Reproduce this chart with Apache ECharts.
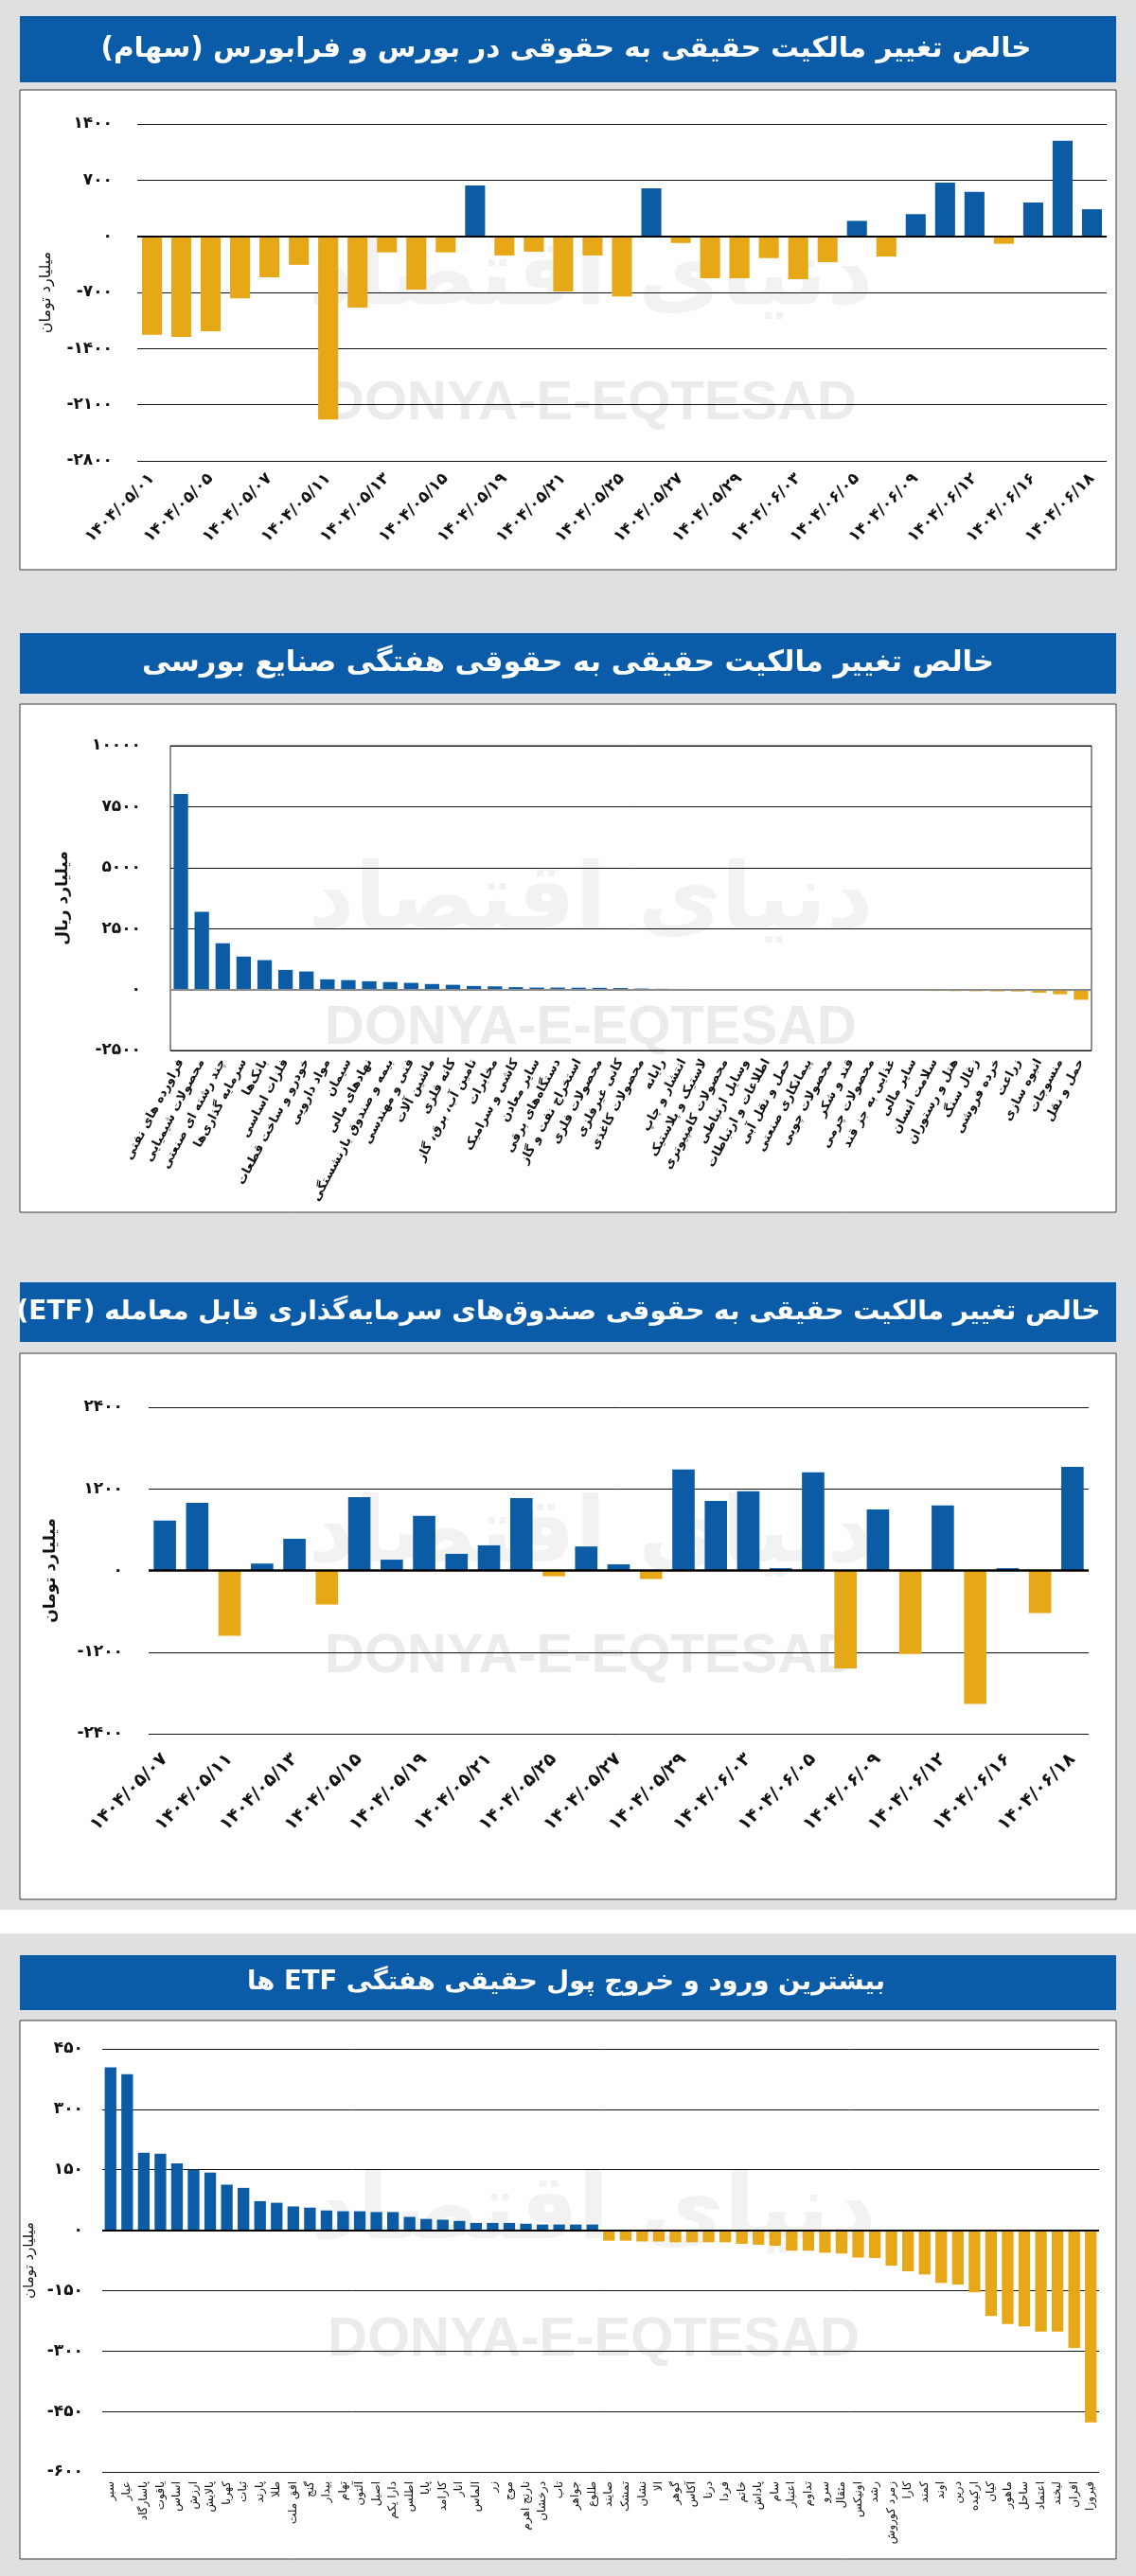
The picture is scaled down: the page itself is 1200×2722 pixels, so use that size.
<!DOCTYPE html>
<html><head><meta charset="utf-8">
<script src="https://cdn.jsdelivr.net/npm/echarts@6.0.0/dist/echarts.min.js"></script>
<style>html,body{margin:0;padding:0;background:#dfe0e2}#c{width:1200px;height:2722px}</style>
</head><body><div id="c"></div><script>
// ---------- DATA ----------
const dates1 = ['۱۴۰۴/۰۵/۰۱','۱۴۰۴/۰۵/۰۴','۱۴۰۴/۰۵/۰۵','۱۴۰۴/۰۵/۰۶','۱۴۰۴/۰۵/۰۷','۱۴۰۴/۰۵/۰۸','۱۴۰۴/۰۵/۱۱','۱۴۰۴/۰۵/۱۲','۱۴۰۴/۰۵/۱۳','۱۴۰۴/۰۵/۱۴','۱۴۰۴/۰۵/۱۵','۱۴۰۴/۰۵/۱۸','۱۴۰۴/۰۵/۱۹','۱۴۰۴/۰۵/۲۰','۱۴۰۴/۰۵/۲۱','۱۴۰۴/۰۵/۲۲','۱۴۰۴/۰۵/۲۵','۱۴۰۴/۰۵/۲۶','۱۴۰۴/۰۵/۲۷','۱۴۰۴/۰۵/۲۸','۱۴۰۴/۰۵/۲۹','۱۴۰۴/۰۶/۰۲','۱۴۰۴/۰۶/۰۳','۱۴۰۴/۰۶/۰۴','۱۴۰۴/۰۶/۰۵','۱۴۰۴/۰۶/۰۸','۱۴۰۴/۰۶/۰۹','۱۴۰۴/۰۶/۱۰','۱۴۰۴/۰۶/۱۲','۱۴۰۴/۰۶/۱۵','۱۴۰۴/۰۶/۱۶','۱۴۰۴/۰۶/۱۷','۱۴۰۴/۰۶/۱۸'];
const stockNet = [-1227,-1255,-1185,-773,-510,-356,-2285,-890,-201,-665,-201,632,-239,-192,-688,-239,-749,599,-84,-524,-524,-272,-534,-323,192,-253,276,670,553,-94,421,1190,337];
const ticks1 = {min:-2800, max:1400, step:700};

const industries = ['فراورده های نفتی','محصولات شیمیایی','چند رشته ای صنعتی','سرمایه گذاری‌ها','بانک‌ها','فلزات اساسی','خودرو و ساخت قطعات','مواد دارویی','سیمان','نهادهای مالی','بیمه و صندوق بازنشستگی','فنی و مهندسی','ماشین آلات','کانه فلزی','تامین آب، برق، گاز','مخابرات','کاشی و سرامیک','سایر معادن','دستگاه‌های برقی','استخراج نفت و گاز','محصولات فلزی','کانی غیرفلزی','محصولات کاغذی','رایانه','انتشار و چاپ','لاستیک و پلاستیک','محصولات کامپیوتری','وسایل ارتباطی','اطلاعات و ارتباطات','حمل و نقل آبی','پیمانکاری صنعتی','محصولات چوبی','قند و شکر','محصولات چرمی','غذایی به جز قند','سایر مالی','سلامت انسان','هتل و رستوران','زغال سنگ','خرده فروشی','زراعت','انبوه سازی','منسوجات','حمل و نقل'];
const industryNet = [8023,3184,1897,1351,1206,804,740,418,386,338,306,273,225,193,145,129,96,80,80,75,70,60,40,30,25,20,15,10,5,-5,-8,-10,-12,-15,-18,-22,-60,-65,-70,-75,-80,-130,-195,-420];
const ticks2 = {min:-2500, max:10000, step:2500};

const dates3 = ['۱۴۰۴/۰۵/۰۷','۱۴۰۴/۰۵/۰۸','۱۴۰۴/۰۵/۱۱','۱۴۰۴/۰۵/۱۲','۱۴۰۴/۰۵/۱۳','۱۴۰۴/۰۵/۱۴','۱۴۰۴/۰۵/۱۵','۱۴۰۴/۰۵/۱۸','۱۴۰۴/۰۵/۱۹','۱۴۰۴/۰۵/۲۰','۱۴۰۴/۰۵/۲۱','۱۴۰۴/۰۵/۲۲','۱۴۰۴/۰۵/۲۵','۱۴۰۴/۰۵/۲۶','۱۴۰۴/۰۵/۲۷','۱۴۰۴/۰۵/۲۸','۱۴۰۴/۰۵/۲۹','۱۴۰۴/۰۶/۰۲','۱۴۰۴/۰۶/۰۳','۱۴۰۴/۰۶/۰۴','۱۴۰۴/۰۶/۰۵','۱۴۰۴/۰۶/۰۸','۱۴۰۴/۰۶/۰۹','۱۴۰۴/۰۶/۱۰','۱۴۰۴/۰۶/۱۲','۱۴۰۴/۰۶/۱۵','۱۴۰۴/۰۶/۱۶','۱۴۰۴/۰۶/۱۷','۱۴۰۴/۰۶/۱۸'];
const etfNet = [734,995,-961,102,466,-500,1080,159,802,245,370,1063,-85,353,91,-125,1484,1024,1166,34,1444,-1439,898,-1228,955,-1962,34,-626,1524];
const ticks3 = {min:-2400, max:2400, step:1200};

const etfNames = ['سبر','عیار','پاسارگاد','یاقوت','اساس','ارزش','پالایش','کهربا','ثبات','پارند','طلا','افق ملت','گنج','بیدار','تهام','آلتون','اصیل','دارا یکم','اطلس','پایا','کارامد','انار','الماس','زر','موج','نارنج اهرم','درخشان','تاب','جواهر','طلوع','صایند','تمشک','نشان','الا','گوهر','آکاس','درنا','فردا','خاتم','پاداش','سام','اعتبار','تداوم','سرو','مثقال','اونیکس','رشد','زمرد کوروش','کارا','کمند','اوند','درین','ارکیده','کیان','ماهور','ساحل','اعتماد','لبخند','افران','فیروزا'];
const etfFlow = [404,387,192,190,166,150,143,113,105,72,68,59,56,49,47,47,45,45,33,28,26,23,18,18,18,16,14,14,14,14,-26,-26,-28,-28,-30,-30,-30,-30,-34,-36,-39,-51,-51,-56,-58,-68,-69,-88,-102,-110,-131,-135,-154,-213,-233,-239,-252,-252,-292,-477];
const ticks4 = {min:-600, max:450, step:150};

const titles = ['خالص تغییر مالکیت حقیقی به حقوقی در بورس و فرابورس (سهام)','خالص تغییر مالکیت حقیقی به حقوقی هفتگی صنایع بورسی','خالص تغییر مالکیت حقیقی به حقوقی صندوق‌های سرمایه‌گذاری قابل معامله (ETF)','بیشترین ورود و خروج پول حقیقی هفتگی ETF ها'];
const unitNames = ['میلیارد تومان','میلیارد ریال','میلیارد تومان','میلیارد تومان'];

// ---------- STYLE / LAYOUT ----------
const BLUE = '#0b5ca5', GOLD = '#e7a817', BAR_BG = '#0b5ca8';
const FONT = '"DejaVu Sans", sans-serif';
const fa = v => String(v).replace(/\d/g, d => '۰۱۲۳۴۵۶۷۸۹'[d]);
const rtl = s => '\u202B' + s + '\u202C';
const signColor = p => p.value >= 0 ? BLUE : GOLD;

const panels = [
  {bar:[21,17,1158,70], panel:[21,95,1158,507], wm:[624,427], logo:[624,296], tsize:29.5, tx:598},
  {bar:[21,669,1158,64], panel:[21,744,1158,537], wm:[624,1087], logo:[624,955], tsize:30.5, tx:600},
  {bar:[21,1355,1158,63], panel:[21,1430,1158,577], wm:[624,1751], logo:[624,1625], tsize:28, tx:590},
  {bar:[21,2066,1158,58], panel:[21,2135,1158,569], wm:[627,2473], logo:[627,2340], tsize:27.5, tx:598}
];

const graphic = [];
// thin white strip between the third and fourth panels
graphic.push({type:'rect', z:-10, shape:{x:0, y:2018, width:1200, height:25}, style:{fill:'#ffffff'}});
panels.forEach((p, i) => {
  graphic.push({type:'rect', z:-10, shape:{x:p.panel[0], y:p.panel[1], width:p.panel[2], height:p.panel[3]}, style:{fill:'#ffffff', stroke:'#3a3a3a', lineWidth:1}});
  graphic.push({type:'rect', z:-10, shape:{x:p.bar[0], y:p.bar[1], width:p.bar[2], height:p.bar[3]}, style:{fill:BAR_BG}});
  graphic.push({type:'text', z:-9, style:{text:rtl(titles[i]), x:p.tx, y:p.bar[1]+p.bar[3]/2, align:'center', verticalAlign:'middle', fill:'#ffffff', font:'bold ' + p.tsize + 'px ' + FONT}});
  graphic.push({type:'text', z:-9, style:{text:'DONYA-E-EQTESAD', x:p.wm[0], y:p.wm[1], align:'center', verticalAlign:'middle', fill:'#ebebeb', font:'bold 58px "Liberation Sans Narrow", "Liberation Sans", sans-serif'}});
  graphic.push({type:'text', z:-9, style:{text:rtl('دنیای اقتصاد'), x:p.logo[0], y:p.logo[1], align:'center', verticalAlign:'middle', fill:'#f2f2f2', font:'bold 96px ' + FONT}});
});

function yAxis(idx, t, margin, name, nameSize, nameGap, nameBold) {
  return {
    gridIndex: idx, type:'value', min:t.min, max:t.max, interval:t.step,
    axisLine:{show:false}, axisTick:{show:false},
    splitLine:{show:true, lineStyle:{color:'#111', width:1}},
    axisLabel:{formatter: v => fa(v), fontSize:17, fontWeight:'bold', color:'#111', fontFamily:FONT, margin:margin},
    name: name, nameLocation:'middle', nameRotate:90, nameGap:nameGap,
    nameTextStyle:{fontSize:nameSize, fontFamily:FONT, color:'#111', fontWeight: nameBold ? 'bold' : 'normal'}
  };
}
const zeroLine = (color, w) => ({silent:true, symbol:'none', label:{show:false}, lineStyle:{color:color, width:w, type:'solid'}, data:[{yAxis:0}], animation:false});

const option = {
  animation:false,
  backgroundColor:'#dfe0e2',
  graphic: graphic,
  grid:[
    {left:145, right:31, top:131, height:356},
    {left:180, right:47, top:788, height:322, show:true, borderColor:'#222', borderWidth:1, backgroundColor:'transparent'},
    {left:157, right:50, top:1487, height:345},
    {left:108, right:39, top:2165, height:447}
  ],
  xAxis:[
    {gridIndex:0, type:'category', data:dates1, axisLine:{show:false}, axisTick:{show:false},
     axisLabel:{interval:1, rotate:45, fontSize:17, fontWeight:'bold', color:'#111', fontFamily:FONT, margin:16}},
    {gridIndex:1, type:'category', data:industries, axisLine:{show:false}, axisTick:{show:false},
     axisLabel:{interval:0, rotate:62, fontSize:13, fontWeight:'bold', color:'#111', fontFamily:FONT, margin:10}},
    {gridIndex:2, type:'category', data:dates3, axisLine:{show:false}, axisTick:{show:false},
     axisLabel:{interval:1, rotate:45, fontSize:19, fontWeight:'bold', color:'#111', fontFamily:FONT, margin:24}},
    {gridIndex:3, type:'category', data:etfNames, axisLine:{show:false}, axisTick:{show:false},
     axisLabel:{interval:0, rotate:90, fontSize:12, color:'#111', fontFamily:FONT, margin:10}}
  ],
  yAxis:[
    yAxis(0, ticks1, 26, unitNames[0], 16, 88, false),
    yAxis(1, ticks2, 31, unitNames[1], 17, 105, true),
    yAxis(2, ticks3, 27, unitNames[2], 17, 95, true),
    yAxis(3, ticks4, 20, unitNames[3], 15, 52, false)
  ],
  series:[
    {type:'bar', xAxisIndex:0, yAxisIndex:0, data:stockNet, barCategoryGap:'32%', itemStyle:{color:signColor}, markLine:zeroLine('#000',2)},
    {type:'bar', xAxisIndex:1, yAxisIndex:1, data:industryNet, barCategoryGap:'31%', itemStyle:{color:signColor}, markLine:zeroLine('#8c8c8c',2)},
    {type:'bar', xAxisIndex:2, yAxisIndex:2, data:etfNet, barCategoryGap:'31%', itemStyle:{color:signColor}, markLine:zeroLine('#000',2.5)},
    {type:'bar', xAxisIndex:3, yAxisIndex:3, data:etfFlow, barCategoryGap:'30%', itemStyle:{color:signColor}, markLine:zeroLine('#000',2)}
  ]
};
const chart = echarts.init(document.getElementById('c'), null, {renderer:'canvas'});
chart.setOption(option);
</script></body></html>
